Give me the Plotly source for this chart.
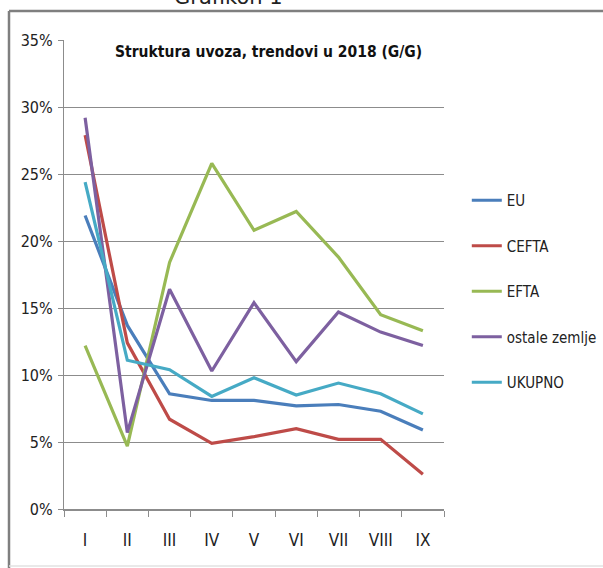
import plotly.graph_objects as go

months = ["I", "II", "III", "IV", "V", "VI", "VII", "VIII", "IX"]
eu = [0.219, 0.137, 0.086, 0.081, 0.081, 0.077, 0.078, 0.073, 0.059]
cefta = [0.279, 0.124, 0.067, 0.049, 0.054, 0.060, 0.052, 0.052, 0.026]
efta = [0.122, 0.047, 0.184, 0.258, 0.208, 0.222, 0.188, 0.145, 0.133]
ostale = [0.292, 0.057, 0.164, 0.103, 0.154, 0.110, 0.147, 0.132, 0.122]
ukupno = [0.244, 0.111, 0.104, 0.084, 0.098, 0.085, 0.094, 0.086, 0.071]
y_ticks = [0, 0.05, 0.10, 0.15, 0.20, 0.25, 0.30, 0.35]
y_labels = ["0%", "5%", "10%", "15%", "20%", "25%", "30%", "35%"]

series = [
    ("EU", eu, "#4A7EBB"),
    ("CEFTA", cefta, "#BE4B48"),
    ("EFTA", efta, "#98B954"),
    ("ostale zemlje", ostale, "#7D60A0"),
    ("UKUPNO", ukupno, "#46AAC5"),
]

FONT = "Liberation Sans Narrow, DejaVu Sans Condensed, Arial Narrow, sans-serif"

fig = go.Figure()
for name, vals, col in series:
    fig.add_trace(go.Scatter(x=months, y=vals, name=name, mode="lines",
                             line=dict(color=col, width=3.2), legendgroup=name))

def px(x):
    return (x - 64) / 380

def py(y):
    return (509 - y) / 469

fig.update_layout(
    width=603, height=568,
    margin=dict(l=64, r=159, t=40, b=59, pad=0, autoexpand=False),
    paper_bgcolor="white", plot_bgcolor="white",
    showlegend=True,
    legend=dict(x=1.06, y=0.693, xanchor="left", yanchor="top",
                font=dict(family=FONT, size=15, color="#222"),
                tracegroupgap=23, itemwidth=30,
                bgcolor="rgba(0,0,0,0)"),
    xaxis=dict(type="category", range=[-0.5, 8.5], showline=True, linecolor="#8c8c8c",
               linewidth=1.5, ticks="outside", tickson="boundaries", ticklen=6,
               tickcolor="#8c8c8c", showgrid=False, ticklabelstandoff=15, automargin=False,
               tickfont=dict(family=FONT, size=17, color="#222")),
    yaxis=dict(range=[0, 0.35], tickvals=y_ticks, ticktext=y_labels, showline=True,
               linecolor="#8c8c8c", linewidth=1.2, ticks="outside", ticklen=5,
               tickcolor="#8c8c8c", showgrid=True, gridcolor="#8c8c8c", gridwidth=1.2,
               zeroline=False, ticklabelstandoff=2, automargin=False,
               tickfont=dict(family=FONT, size=16, color="#222")),
    annotations=[
        dict(text="<b>Struktura uvoza, trendovi u 2018 (G/G)</b>", xref="paper", yref="paper",
             x=px(268), y=py(52), xanchor="center", yanchor="middle",
             showarrow=False,
             font=dict(family=FONT, size=15.5, color="#111")),
        dict(text="Grafikon 1", xref="paper", yref="paper",
             x=px(228), y=py(11), xanchor="center", yanchor="bottom",
             showarrow=False,
             font=dict(family="DejaVu Sans", size=21, color="#222")),
    ],
    shapes=[
        dict(type="line", xref="paper", yref="paper", x0=px(9), x1=px(603), y0=py(11), y1=py(11),
             line=dict(color="#7f7f7f", width=2.5), layer="below"),
        dict(type="line", xref="paper", yref="paper", x0=px(9), x1=px(9), y0=py(11), y1=py(568),
             line=dict(color="#7f7f7f", width=2.5), layer="below"),
        dict(type="line", xref="paper", yref="paper", x0=px(9), x1=px(603), y0=py(566), y1=py(566),
             line=dict(color="#e2e2e2", width=1.5), layer="below"),
    ],
)

fig.write_html("out.html", config={"displayModeBar": False},
               post_script="document.body.style.margin='0px';document.body.style.overflow='hidden';")
